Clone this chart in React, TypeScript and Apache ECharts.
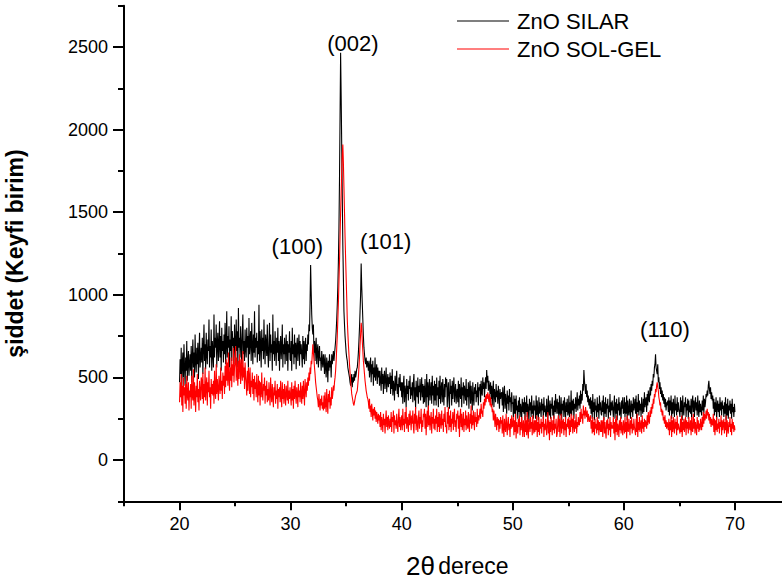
import React, { useEffect, useRef } from "react";
import * as echarts from "echarts";

// Sampling grid of the diffractograms (2θ, degrees)
const X_START = 20;
const X_STEP = 0.05;

// ZnO SILAR intensities (a.u.), 20.00 … 70.00 in 0.05° steps (one row = 1°)
const silar20 = [
  470, 610, 520, 680, 430, 590, 650, 500, 700, 560, 450, 620, 540, 720, 480, 600, 660, 510, 580, 640,
  540, 690, 470, 620, 730, 560, 650, 500, 760, 600, 530, 680, 580, 710, 490, 640, 770, 560, 620, 680,
  590, 740, 520, 680, 820, 600, 700, 550, 770, 640, 580, 730, 660, 850, 560, 690, 620, 790, 540, 720,
  650, 560, 880, 620, 740, 680, 820, 560, 710, 770, 600, 690, 840, 620, 750, 540, 800, 660, 720, 590,
  760, 640, 830, 580, 700, 900, 620, 750, 680, 810, 560, 730, 660, 870, 600, 780, 690, 740, 580, 820,
  700, 600, 850, 660, 780, 560, 920, 680, 740, 620, 810, 700, 580, 760, 880, 640, 720, 600, 790, 670,
  620, 800, 680, 750, 560, 860, 640, 720, 780, 600, 830, 690, 580, 760, 650, 900, 620, 740, 680, 770,
  590, 720, 640, 940, 600, 780, 700, 560, 790, 660, 740, 610, 850, 680, 580, 760, 700, 630, 820, 650,
  560, 710, 830, 600, 760, 650, 700, 540, 880, 640, 720, 600, 780, 680, 570, 740, 650, 800, 600, 720,
  540, 690, 750, 610, 680, 820, 560, 700, 640, 740, 580, 680, 760, 600, 720, 540, 700, 650, 780, 610,
];
const silar30 = [
  600, 720, 540, 800, 640, 700, 580, 760, 620, 710, 550, 690, 740, 600, 680, 760, 570, 720, 640, 700,
  630, 560, 750, 610, 720, 580, 690, 740, 600, 700, 660, 760, 700, 820, 780, 950, 1180, 1020, 880, 800,
  760, 820, 650, 720, 600, 690, 740, 580, 660, 700, 560, 640, 690, 600, 620, 540, 660, 600, 560, 640,
  600, 520, 640, 560, 500, 620, 580, 470, 600, 540, 640, 560, 600, 500, 640, 580, 620, 660, 600, 640,
  680, 720, 780, 850, 940, 1050, 1200, 1400, 1700, 2080, 2465, 2200, 1900, 1600, 1300, 1100, 900, 820, 750, 700,
  650, 620, 600, 560, 540, 520, 500, 470, 450, 490, 520, 440, 500, 470, 520, 480, 540, 500, 520, 550,
  560, 600, 650, 720, 800, 900, 1000, 1190, 1050, 950, 850, 750, 680, 640, 600, 580, 620, 560, 600, 580,
  540, 600, 500, 560, 620, 470, 580, 520, 600, 450, 560, 500, 620, 480, 540, 580, 460, 560, 500, 540,
  450, 540, 480, 420, 560, 460, 520, 400, 500, 540, 430, 490, 560, 410, 480, 520, 440, 500, 460, 530,
  400, 510, 430, 550, 390, 480, 450, 360, 510, 420, 480, 540, 400, 460, 380, 500, 440, 520, 420, 470,
];
const silar40 = [
  380, 470, 340, 460, 510, 350, 450, 420, 320, 490, 400, 450, 360, 480, 430, 510, 370, 440, 390, 470,
  350, 470, 520, 360, 440, 310, 480, 400, 380, 500, 340, 450, 410, 490, 360, 430, 500, 380, 460, 340,
  450, 350, 490, 400, 320, 520, 380, 470, 300, 440, 490, 360, 420, 470, 340, 510, 390, 450, 330, 480,
  360, 460, 330, 500, 390, 440, 320, 480, 370, 510, 340, 430, 470, 350, 490, 400, 330, 460, 380, 500,
  440, 490, 320, 420, 470, 360, 310, 490, 400, 450, 330, 480, 370, 440, 500, 350, 420, 460, 340, 410,
  430, 350, 480, 320, 460, 400, 370, 500, 320, 440, 390, 470, 340, 450, 410, 360, 490, 330, 430, 380,
  470, 310, 430, 480, 340, 450, 390, 300, 470, 380, 330, 440, 400, 460, 350, 420, 380, 470, 330, 440,
  420, 460, 350, 480, 410, 390, 500, 430, 470, 380, 450, 500, 430, 545, 470, 510, 420, 480, 440, 400,
  470, 370, 450, 330, 420, 480, 320, 430, 390, 350, 460, 380, 420, 340, 450, 390, 310, 430, 370, 400,
  410, 330, 440, 290, 390, 450, 310, 400, 360, 280, 420, 340, 390, 300, 430, 350, 380, 290, 410, 340,
];
const silar50 = [
  350, 260, 390, 280, 370, 240, 390, 300, 330, 250, 360, 290, 380, 260, 340, 310, 240, 370, 290, 350,
  280, 380, 240, 350, 290, 390, 260, 340, 310, 230, 370, 300, 350, 260, 390, 280, 330, 250, 360, 300,
  330, 250, 390, 270, 360, 290, 240, 380, 280, 350, 310, 260, 370, 300, 340, 250, 380, 290, 330, 270,
  260, 370, 290, 240, 390, 300, 270, 360, 250, 340, 310, 380, 270, 330, 250, 360, 290, 400, 280, 340,
  370, 280, 350, 240, 390, 290, 270, 380, 240, 340, 300, 360, 260, 380, 310, 250, 350, 290, 370, 270,
  290, 390, 260, 350, 280, 420, 270, 360, 300, 370, 250, 340, 310, 380, 290, 350, 410, 300, 370, 330,
  390, 310, 420, 340, 400, 360, 460, 420, 545, 480, 440, 400, 460, 380, 420, 350, 390, 330, 370, 310,
  380, 280, 360, 250, 400, 290, 350, 240, 370, 300, 330, 260, 380, 290, 340, 250, 390, 300, 350, 280,
  270, 360, 290, 390, 240, 350, 280, 380, 260, 340, 310, 370, 250, 330, 290, 400, 270, 350, 300, 360,
  360, 260, 330, 390, 250, 350, 280, 370, 240, 340, 300, 380, 270, 350, 290, 250, 360, 310, 380, 280,
];
const silar60 = [
  290, 380, 260, 350, 280, 390, 240, 360, 300, 270, 370, 310, 250, 360, 290, 340, 260, 380, 300, 330,
  370, 280, 390, 250, 350, 290, 400, 270, 360, 300, 340, 260, 380, 310, 280, 370, 290, 410, 320, 360,
  380, 290, 400, 330, 420, 370, 350, 440, 390, 460, 420, 480, 450, 520, 500, 560, 580, 640, 560, 540,
  520, 580, 470, 500, 430, 470, 400, 440, 380, 420, 360, 400, 340, 380, 320, 370, 300, 350, 330, 360,
  290, 380, 270, 360, 300, 390, 250, 350, 280, 370, 320, 260, 390, 300, 340, 270, 380, 290, 350, 310,
  310, 260, 380, 290, 360, 240, 390, 300, 270, 350, 320, 380, 260, 340, 300, 370, 250, 360, 290, 330,
  280, 370, 250, 350, 390, 290, 360, 260, 340, 380, 300, 350, 270, 390, 310, 260, 360, 290, 340, 300,
  270, 360, 300, 390, 280, 370, 320, 350, 400, 380, 420, 390, 450, 480, 430, 400, 440, 370, 410, 360,
  390, 310, 370, 270, 350, 290, 380, 240, 330, 360, 290, 340, 260, 380, 300, 350, 270, 360, 310, 330,
  260, 350, 280, 380, 240, 340, 270, 370, 250, 330, 300, 360, 280, 340, 250, 370, 290, 320, 260, 340,
  290,
];

// ZnO SOL-GEL intensities (a.u.), 20.00 … 70.00 in 0.05° steps (one row = 1°)
const solgel20 = [
  350, 470, 380, 520, 330, 450, 290, 500, 390, 440, 340, 460, 310, 510, 390, 360, 470, 300, 420, 380,
  460, 310, 510, 390, 360, 550, 330, 470, 400, 290, 450, 380, 520, 350, 430, 300, 480, 410, 360, 500,
  480, 370, 530, 340, 460, 380, 560, 360, 450, 500, 330, 470, 410, 540, 380, 440, 310, 490, 400, 460,
  390, 480, 340, 540, 420, 370, 580, 400, 490, 430, 360, 510, 450, 400, 560, 420, 480, 370, 530, 450,
  510, 400, 570, 440, 610, 480, 590, 450, 650, 500, 420, 560, 480, 620, 440, 580, 510, 680, 470, 560,
  590, 690, 480, 620, 520, 450, 600, 490, 640, 570, 460, 610, 530, 480, 660, 500, 560, 430, 590, 510,
  460, 390, 540, 420, 560, 510, 400, 560, 380, 480, 440, 530, 400, 490, 360, 510, 430, 470, 380, 520,
  420, 350, 510, 390, 480, 330, 470, 380, 530, 410, 360, 460, 420, 500, 340, 450, 390, 480, 350, 430,
  360, 470, 390, 330, 500, 400, 350, 460, 380, 320, 440, 390, 480, 340, 420, 370, 460, 310, 430, 380,
  440, 350, 480, 380, 320, 470, 370, 430, 340, 460, 390, 330, 450, 400, 360, 480, 340, 420, 370, 440,
];
const solgel30 = [
  380, 330, 470, 360, 430, 310, 450, 370, 480, 390, 340, 440, 400, 320, 460, 380, 420, 350, 470, 400,
  340, 450, 370, 480, 400, 330, 490, 430, 380, 470, 420, 500, 450, 530, 480, 560, 520, 600, 580, 640,
  700, 650, 610, 560, 520, 470, 440, 410, 380, 360, 320, 400, 340, 300, 370, 330, 390, 310, 350, 300,
  390, 310, 410, 330, 290, 430, 340, 280, 400, 350, 420, 310, 380, 330, 440, 370, 400, 450, 420, 470,
  500, 540, 600, 680, 750, 850, 950, 1080, 1200, 1350, 1500, 1620, 1750, 1850, 1910, 1800, 1650, 1500, 1350, 1220,
  1100, 980, 850, 770, 700, 640, 580, 530, 480, 440, 400, 380, 360, 340, 330, 350, 370, 390, 400, 410,
  420, 460, 500, 560, 620, 700, 760, 830, 800, 720, 660, 600, 560, 520, 480, 450, 420, 400, 380, 370,
  350, 310, 370, 290, 330, 260, 340, 300, 240, 310, 270, 320, 250, 300, 230, 290, 260, 220, 280, 240,
  270, 200, 290, 180, 260, 230, 170, 280, 210, 250, 160, 240, 300, 200, 260, 180, 270, 220, 190, 250,
  200, 290, 170, 260, 230, 300, 160, 270, 210, 240, 190, 280, 220, 170, 250, 310, 200, 260, 180, 230,
];
const solgel40 = [
  270, 180, 310, 210, 250, 170, 290, 220, 320, 190, 260, 230, 170, 280, 210, 300, 240, 180, 270, 220,
  300, 200, 160, 280, 220, 320, 180, 270, 230, 170, 250, 300, 190, 260, 220, 310, 170, 240, 200, 280,
  260, 310, 190, 280, 150, 250, 300, 200, 330, 210, 270, 180, 240, 290, 160, 260, 220, 310, 190, 250,
  180, 270, 220, 310, 170, 260, 200, 290, 170, 280, 230, 190, 300, 210, 250, 170, 280, 230, 320, 200,
  210, 160, 290, 220, 320, 180, 270, 200, 300, 170, 250, 220, 290, 180, 260, 310, 200, 240, 170, 280,
  250, 300, 190, 270, 140, 260, 310, 200, 280, 180, 230, 290, 170, 250, 210, 300, 180, 270, 220, 190,
  290, 210, 170, 280, 220, 330, 190, 270, 210, 300, 240, 180, 290, 230, 260, 200, 310, 220, 270, 240,
  240, 310, 250, 340, 280, 300, 260, 350, 310, 370, 330, 390, 350, 400, 370, 410, 380, 350, 400, 330,
  380, 320, 340, 290, 310, 240, 300, 260, 200, 280, 230, 180, 260, 210, 250, 170, 240, 190, 260, 220,
  240, 160, 270, 190, 140, 250, 200, 170, 280, 210, 150, 230, 260, 180, 220, 140, 250, 190, 270, 200,
];
const solgel50 = [
  210, 260, 150, 240, 170, 280, 130, 230, 190, 160, 250, 200, 270, 150, 230, 180, 260, 210, 140, 240,
  200, 140, 270, 170, 240, 150, 290, 180, 130, 250, 210, 170, 260, 190, 230, 150, 270, 200, 160, 240,
  170, 240, 180, 270, 140, 230, 170, 260, 150, 220, 190, 250, 160, 230, 200, 270, 140, 220, 180, 250,
  250, 150, 220, 290, 160, 240, 120, 230, 170, 260, 200, 150, 240, 180, 270, 160, 220, 190, 250, 140,
  160, 230, 270, 170, 250, 140, 220, 280, 160, 240, 190, 250, 150, 230, 180, 260, 140, 220, 200, 250,
  190, 260, 150, 240, 170, 280, 200, 250, 160, 270, 210, 170, 240, 190, 280, 160, 230, 200, 260, 220,
  210, 290, 230, 310, 250, 280, 220, 330, 270, 300, 250, 320, 280, 260, 300, 230, 280, 250, 230, 260,
  270, 190, 240, 160, 260, 170, 230, 150, 250, 190, 220, 160, 260, 180, 240, 150, 230, 200, 170, 240,
  170, 240, 140, 220, 260, 160, 230, 170, 130, 240, 190, 250, 150, 220, 180, 260, 140, 230, 190, 210,
  190, 260, 160, 230, 120, 250, 170, 270, 150, 220, 200, 140, 240, 180, 260, 160, 230, 190, 150, 240,
];
const solgel60 = [
  240, 160, 260, 170, 230, 130, 270, 180, 170, 250, 200, 150, 240, 190, 260, 160, 220, 180, 250, 200,
  200, 150, 250, 170, 280, 140, 230, 180, 260, 170, 210, 240, 160, 270, 190, 230, 170, 250, 200, 240,
  240, 190, 270, 210, 290, 240, 220, 300, 260, 320, 280, 340, 310, 370, 340, 400, 380, 430, 410, 450,
  470, 440, 420, 380, 360, 330, 350, 290, 310, 270, 300, 240, 260, 220, 270, 200, 240, 190, 230, 210,
  180, 250, 150, 230, 180, 270, 140, 240, 170, 260, 200, 160, 250, 190, 230, 150, 270, 180, 220, 200,
  200, 160, 250, 170, 270, 140, 230, 180, 250, 170, 220, 260, 150, 240, 190, 230, 160, 260, 200, 180,
  240, 150, 260, 180, 170, 280, 190, 250, 160, 230, 200, 150, 260, 190, 240, 170, 220, 180, 250, 210,
  180, 260, 200, 290, 220, 280, 240, 260, 300, 250, 310, 270, 290, 240, 280, 220, 260, 200, 250, 220,
  210, 280, 170, 250, 150, 240, 180, 260, 170, 220, 190, 250, 160, 230, 200, 270, 150, 240, 180, 220,
  250, 160, 230, 180, 270, 140, 240, 190, 160, 230, 200, 260, 170, 220, 150, 250, 190, 230, 170, 210,
  180,
];

const seriesNames = ["ZnO SILAR", "ZnO SOL-GEL"];

// Peak annotations: [2θ, intensity, label]
const peakLabels: [number, number, string][] = [
  [35.6, 2520, "(002)"],
  [30.6, 1290, "(100)"],
  [38.55, 1325, "(101)"],
  [63.7, 790, "(110)"],
];

const xMajorTicks = [20, 30, 40, 50, 60, 70];
const xMinorTicks = [15, 25, 35, 45, 55, 65, 75];
const yMajorTicks = [0, 500, 1000, 1500, 2000, 2500];
const yMinorTicks = [-250, 250, 750, 1250, 1750, 2250, 2750];

const FONT = "'Liberation Sans', Arial, sans-serif";

function toPairs(values: number[]): [number, number][] {
  return values.map((v, i) => [Math.round((X_START + i * X_STEP) * 100) / 100, v]);
}

export default function App() {
  const ref = useRef<HTMLDivElement>(null);

  useEffect(() => {
    if (!ref.current) return;
    const chart = echarts.init(ref.current, null, { renderer: "svg" });
    const silar = [...silar20, ...silar30, ...silar40, ...silar50, ...silar60];
    const solgel = [...solgel20, ...solgel30, ...solgel40, ...solgel50, ...solgel60];

    const axisLine = { show: true, onZero: false, lineStyle: { color: "#000", width: 2 } };
    const plain = (v: number) => String(v);

    chart.setOption({
      animation: false,
      backgroundColor: "#fff",
      grid: {
        left: 124,
        right: -8.5,
        top: 5.7,
        bottom: 80.7,
        containLabel: false,
        outerBoundsMode: "none",
      },
      legend: {
        orient: "vertical",
        left: 457,
        top: 10,
        padding: 0,
        data: seriesNames,
        icon: "rect",
        itemWidth: 52,
        itemHeight: 1.2,
        itemGap: 6,
        textStyle: { fontFamily: FONT, fontSize: 22, color: "#000", padding: [0, 0, 0, 3] },
      },
      xAxis: [
        {
          type: "value",
          min: 15,
          max: 75,
          position: "bottom",
          axisLine,
          splitLine: { show: false },
          axisTick: { show: true, length: 9, lineStyle: { width: 2, color: "#000" }, customValues: xMajorTicks },
          axisLabel: { customValues: xMajorTicks, formatter: plain, fontSize: 18, fontFamily: FONT, color: "#000", margin: 14 },
          name: "{a|2θ} {b|derece}",
          nameLocation: "middle",
          nameGap: 52,
          nameTextStyle: {
            rich: {
              a: { fontSize: 26, fontFamily: FONT, color: "#000" },
              b: { fontSize: 23, fontFamily: FONT, color: "#000" },
            },
          },
        },
        {
          type: "value",
          min: 15,
          max: 75,
          position: "bottom",
          axisLine: { show: false, onZero: false },
          splitLine: { show: false },
          axisTick: { show: true, length: 5, lineStyle: { width: 2, color: "#000" }, customValues: xMinorTicks },
          axisLabel: { show: false },
        },
      ],
      yAxis: [
        {
          type: "value",
          min: -250,
          max: 2750,
          position: "left",
          axisLine,
          splitLine: { show: false },
          axisTick: { show: true, length: 11, lineStyle: { width: 2, color: "#000" }, customValues: yMajorTicks },
          axisLabel: { customValues: yMajorTicks, formatter: plain, fontSize: 18, fontFamily: FONT, color: "#000", margin: 16 },
          name: "şiddet (Keyfi birim)",
          nameLocation: "middle",
          nameGap: 98,
          nameRotate: 90,
          nameTextStyle: { fontSize: 23, fontWeight: "bold", fontFamily: FONT, color: "#000" },
        },
        {
          type: "value",
          min: -250,
          max: 2750,
          position: "left",
          axisLine: { show: false, onZero: false },
          splitLine: { show: false },
          axisTick: { show: true, length: 6, lineStyle: { width: 2, color: "#000" }, customValues: yMinorTicks },
          axisLabel: { show: false },
        },
      ],
      series: [
        {
          name: seriesNames[0],
          type: "line",
          xAxisIndex: 0,
          yAxisIndex: 0,
          data: toPairs(silar),
          showSymbol: false,
          symbol: "none",
          lineStyle: { color: "#000", width: 1.1 },
          itemStyle: { color: "#000" },
        },
        {
          name: seriesNames[1],
          type: "line",
          xAxisIndex: 0,
          yAxisIndex: 0,
          data: toPairs(solgel),
          showSymbol: false,
          symbol: "none",
          lineStyle: { color: "#ff0000", width: 1.1 },
          itemStyle: { color: "#ff0000" },
        },
        {
          name: "labels",
          type: "scatter",
          xAxisIndex: 0,
          yAxisIndex: 0,
          symbolSize: 0,
          silent: true,
          itemStyle: { opacity: 1 },
          data: peakLabels.map(([x, y, t]) => ({ value: [x, y], name: t })),
          label: {
            show: true,
            position: "inside",
            formatter: (p: any) => p.name,
            fontSize: 22,
            fontFamily: FONT,
            color: "#000",
            textBorderWidth: 0,
            opacity: 1,
          },
        },
      ],
    });

    return () => chart.dispose();
  }, []);

  return (
    <div
      ref={ref}
      style={{ position: "fixed", left: 0, top: 0, width: 782, height: 582, background: "#fff" }}
    />
  );
}
